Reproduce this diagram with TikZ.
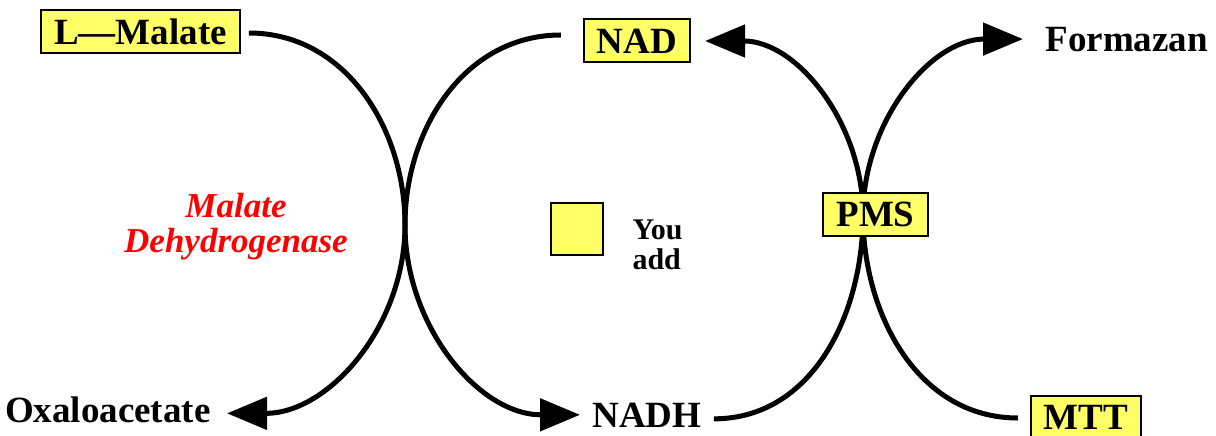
\documentclass[tikz,border=0pt]{standalone}
\usepackage{fontspec}
\setmainfont{Liberation Serif}
\usetikzlibrary{arrows.meta,calc}
\definecolor{padyellow}{RGB}{255,255,102}

\begin{document}
\begin{tikzpicture}[
 x=1pt, y=-1pt,
 line width=5pt,
 >={Triangle[length=40pt,width=32pt]},
 inner sep=0pt,
 font=\bfseries\fontsize{37}{37}\selectfont,
 reagent/.style={draw=black,line width=2pt,rectangle,fill=padyellow,inner xsep=13pt,minimum height=43pt},
 chem/.style={rectangle},
 enzyme/.style={text=red,align=center,font=\bfseries\itshape\fontsize{35}{35}\selectfont},
 note/.style={align=left,anchor=west,font=\bfseries\fontsize{30}{30}\selectfont}
]
\useasboundingbox (0,0) rectangle (1216,436);
\node (malate-box) [reagent] at (140.5,32) {L—Malate};
\node (nad-box) [reagent] at (637,41) {NAD};
\node (mtt-box) [reagent] at (1086,417) {MTT};
\node (formazan) [chem,anchor=base west] at (1043,52) {Formazan};
\node (oxalo) [chem,anchor=base east] at (213,422) {Oxaloacetate};
\node (nadh) [chem,anchor=base west] at (590,427) {NADH};
\node (mdh) [enzyme] at (236,227) {Malate\\Dehydrogenase};
\node (addition-box) [reagent,minimum width=52pt,minimum height=52pt,inner xsep=0pt] at (577,229) {};
\node (you-add) [note] at (630,245) {You\\add};
\coordinate (mdh-join) at (405,225);
\coordinate (pms-join) at (863,215);
\draw[->] ($(malate-box.east)+(8,1)$) to[out=0,in=90] (mdh-join) to[out=-90,in=0] ($(oxalo.east)+(14,4)$);
\draw[->] ($(nad-box.west)+(-22,-6)$) to[out=180,in=90] (mdh-join) to[out=-90,in=180] ($(nadh.west)+(-10,0)$);
\draw[->] ($(nadh.east)+(10,4)$) to[out=0,in=-90] (pms-join) to[out=90,in=0] ($(nad-box.east)+(14,0)$);
\draw[->] ($(mtt-box.west)+(-12,1)$) to[out=180,in=-90] (pms-join) to[out=90,in=180] ($(formazan.west)+(-20,-1)$);
\node (pms-box) [reagent] at (875.5,214.5) {PMS};
\end{tikzpicture}
\end{document}
